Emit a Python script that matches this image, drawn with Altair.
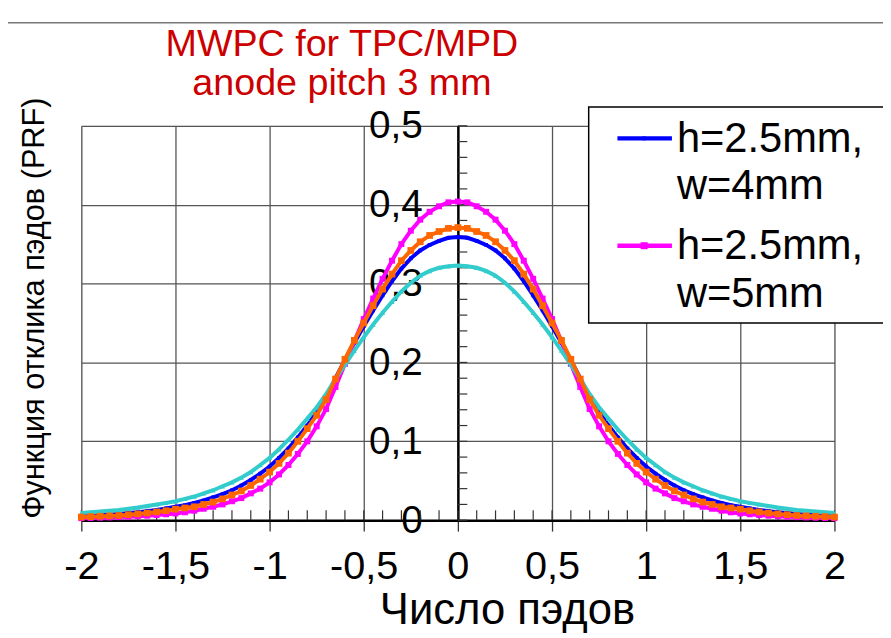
import altair as alt
import pandas as pd

# ---------------- data ----------------
# x positions 0 .. 2 step 0.05 (curves are symmetric about 0)
x_half = [round(i * 0.05, 2) for i in range(41)]

series_names = ["h=2.5mm, w=4mm", "h=2.5mm, w=5mm", "Ряд3", "Ряд4"]
series_colors = ["#0000ff", "#ff00ff", "#33cccc", "#ff6600"]

blue_half = [0.359, 0.358, 0.354, 0.349, 0.342, 0.332, 0.319, 0.303, 0.285, 0.266,
             0.246, 0.225, 0.203, 0.180, 0.156, 0.137, 0.120, 0.105, 0.091, 0.079,
             0.068, 0.059, 0.051, 0.044, 0.038, 0.033, 0.029, 0.025, 0.022, 0.019,
             0.017, 0.015, 0.013, 0.0115, 0.010, 0.009, 0.008, 0.007, 0.0063, 0.0057,
             0.005]
magenta_half = [0.404, 0.403, 0.398, 0.391, 0.381, 0.367, 0.350, 0.329, 0.306, 0.281,
                0.255, 0.227, 0.198, 0.169, 0.141, 0.119, 0.100, 0.084, 0.070, 0.058,
                0.048, 0.040, 0.034, 0.028, 0.024, 0.020, 0.017, 0.0145, 0.012, 0.010,
                0.0085, 0.0075, 0.0065, 0.0057, 0.005, 0.0044, 0.0039, 0.0035, 0.0031, 0.0028,
                0.0025]
cyan_half = [0.323, 0.322, 0.320, 0.316, 0.310, 0.301, 0.290, 0.277, 0.263, 0.248,
             0.232, 0.215, 0.197, 0.179, 0.160, 0.143, 0.129, 0.115, 0.102, 0.090,
             0.079, 0.070, 0.061, 0.054, 0.048, 0.043, 0.038, 0.034, 0.030, 0.027,
             0.024, 0.022, 0.020, 0.018, 0.016, 0.0145, 0.013, 0.012, 0.011, 0.010,
             0.009]
orange_half = [0.371, 0.370, 0.366, 0.361, 0.353, 0.342, 0.329, 0.312, 0.293, 0.272,
               0.250, 0.228, 0.204, 0.179, 0.153, 0.133, 0.116, 0.100, 0.085, 0.072,
               0.061, 0.052, 0.044, 0.037, 0.032, 0.027, 0.023, 0.020, 0.017, 0.0155,
               0.014, 0.012, 0.0105, 0.009, 0.008, 0.007, 0.006, 0.0055, 0.005, 0.0045,
               0.004]

x_ticks = [-2, -1.5, -1, -0.5, 0, 0.5, 1, 1.5, 2]
y_ticks = [0, 0.1, 0.2, 0.3, 0.4, 0.5]
x_minor = [round(-2 + i * 0.1, 1) for i in range(41)]
y_minor = [round(i * 0.02, 2) for i in range(26)]

title_lines = ["MWPC for TPC/MPD", "anode pitch 3 mm"]
x_title = "Число пэдов"
y_title = "Функция отклика пэдов (PRF)"
legend_lines = [["h=2.5mm,", "w=4mm"], ["h=2.5mm,", "w=5mm"]]

FONT = "Liberation Sans"


def full(half):
    return list(reversed(half[1:])) + list(half)


x_full = [-v for v in reversed(x_half[1:])] + x_half

frames = {}
for name, half in zip(series_names, [blue_half, magenta_half, cyan_half, orange_half]):
    frames[name] = pd.DataFrame({"x": x_full, "y": full(half)})

xs = alt.Scale(domain=[-2, 2], nice=False, zero=False)
ys = alt.Scale(domain=[0, 0.5], nice=False)

x_axis = alt.Axis(
    values=x_ticks, title=None, grid=True, gridColor="#555", gridWidth=1.3,
    domainColor="#000", domainWidth=2.5, tickColor="#333", tickWidth=1.3, tickSize=11,
    labelFontSize=40, labelPadding=16, labelFlush=False, labelOverlap=False,
    labelColor="#000", labelFont=FONT,
    labelExpr="replace(toString(datum.value), '.', ',')",
)
y_axis = alt.Axis(
    values=y_ticks, title=None, grid=True, gridColor="#555", gridWidth=1.3,
    domainColor="#000", domainWidth=2.5, ticks=False, tickSize=0, offset=-380,
    labelFontSize=39, labelPadding=36, labelAlign="right", labelOverlap=False,
    labelColor="#000", labelFont=FONT,
    labelExpr="datum.value == 0 ? '0' : replace(format(datum.value, '.1f'), '.', ',')",
)

X = alt.X("x:Q", scale=xs, axis=x_axis)
Y = alt.Y("y:Q", scale=ys, axis=y_axis)

one = pd.DataFrame({"a": [0]})

layers = []

# minor ticks on the axes
layers.append(
    alt.Chart(pd.DataFrame({"y": y_minor})).mark_rule(color="#333", strokeWidth=1.2).encode(
        y=Y, x=alt.datum(0), x2=alt.datum(0.05)
    )
)
layers.append(
    alt.Chart(pd.DataFrame({"x": x_minor})).mark_rule(color="#333", strokeWidth=1.2).encode(
        x=X, y=alt.datum(0), y2=alt.datum(0.0125)
    )
)

marker = {
    "h=2.5mm, w=4mm": dict(shape="square", size=14),
    "h=2.5mm, w=5mm": dict(shape="square", size=36),
    "Ряд3": dict(shape="triangle-up", size=26),
    "Ряд4": dict(shape="square", size=46),
}
for name, color in zip(series_names, series_colors):
    m = marker[name]
    layers.append(
        alt.Chart(frames[name]).mark_line(
            color=color, strokeWidth=4,
            point=alt.OverlayMarkDef(filled=True, color=color, shape=m["shape"], size=m["size"]),
        ).encode(x=X, y=Y)
    )

# ---- custom legend ----
layers.append(
    alt.Chart(one).mark_rect(fill="white", stroke="#000", strokeWidth=1.5).encode(
        x=alt.value(512), x2=alt.value(830), y=alt.value(-19), y2=alt.value(199)
    )
)
leg_line_y = [12.7, 121]
leg_text_y = [[26, 74], [134, 183]]
for i, color in enumerate(series_colors[:2]):
    layers.append(
        alt.Chart(one).mark_rule(color=color, strokeWidth=4.5).encode(
            x=alt.value(541), x2=alt.value(596), y=alt.value(leg_line_y[i])
        )
    )
    layers.append(
        alt.Chart(one).mark_point(filled=True, color=color, shape="square",
                                  size=14 if i == 0 else 50, opacity=1).encode(
            x=alt.value(568), y=alt.value(leg_line_y[i])
        )
    )
    for j in range(2):
        layers.append(
            alt.Chart(one).mark_text(
                text=legend_lines[i][j], align="left", baseline="alphabetic",
                fontSize=42, font=FONT, color="#000"
            ).encode(x=alt.value(601), y=alt.value(leg_text_y[i][j]))
        )

# ---- title ----
for k, yy in enumerate([-70, -31]):
    layers.append(
        alt.Chart(one).mark_text(
            text=title_lines[k], align="center", baseline="alphabetic",
            fontSize=38, font=FONT, color="#cc0000"
        ).encode(x=alt.value(263), y=alt.value(yy))
    )

# ---- axis titles ----
layers.append(
    alt.Chart(one).mark_text(
        text=x_title, align="center", baseline="alphabetic", fontSize=44, font=FONT, color="#000"
    ).encode(x=alt.value(430), y=alt.value(503))
)
layers.append(
    alt.Chart(one).mark_text(
        text=y_title, align="center", baseline="middle", angle=270, fontSize=31, font=FONT,
        color="#000"
    ).encode(x=alt.value(-47), y=alt.value(184))
)

# ---- frame line at top ----
layers.append(
    alt.Chart(one).mark_rule(color="#777", strokeWidth=1.5).encode(
        x=alt.value(-74), x2=alt.value(809), y=alt.value(-104)
    )
)

chart = alt.layer(*layers).properties(
    width=760, height=398,
    autosize=alt.AutoSizeParams(type="none"),
    padding={"left": 74, "top": 116, "right": 49, "bottom": 116},
).configure_view(stroke="#888", strokeWidth=2.5).configure(font=FONT)

chart.save("out.html", embed_options={"renderer": "svg", "actions": False})
